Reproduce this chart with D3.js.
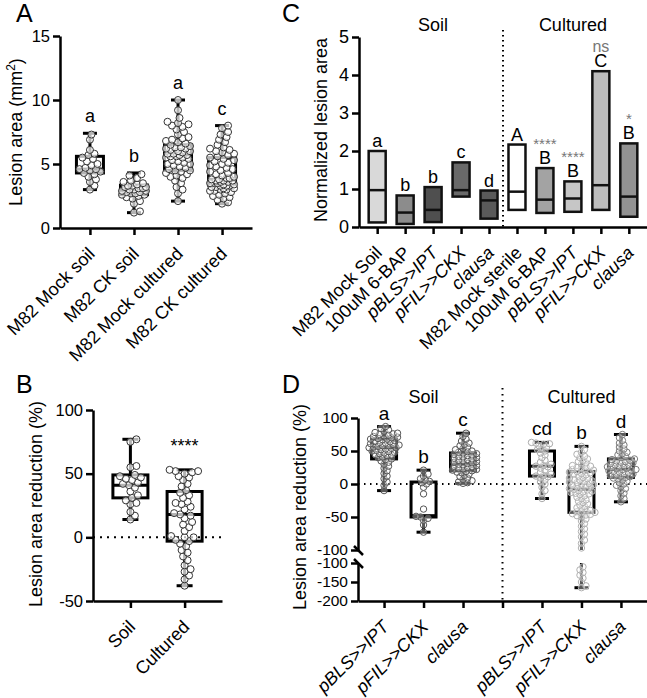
<!DOCTYPE html>
<html><head><meta charset="utf-8">
<script src="https://cdn.jsdelivr.net/npm/d3@7"></script>
<style>body{margin:0;background:#fff} svg{display:block} text{font-family:"Liberation Sans",Arial,Helvetica,sans-serif}</style>
</head><body><svg id="fig" width="647" height="698"></svg>
<script>
// ---------- Panel A data ----------
const aCategories = ["M82 Mock soil","M82 CK soil","M82 Mock cultured","M82 CK cultured"];
const aStats = [[3.0,4.3,4.6,5.6,7.4],[1.2,2.6,2.9,3.35,4.3],[2.1,4.5,5.7,6.5,10],[1.9,3.35,3.8,5.5,8.0]]; // min,q1,med,q3,max
const aLetters = ["a","b","a","c"];
const aMockSoil = [3.0,3.3,3.6,3.8,4.0,4.2,4.3,4.4,4.5,4.6,4.6,4.7,4.9,5.0,5.2,5.4,5.5,5.7,5.8,6.1,6.9,7.3];
const aCkSoil = [1.2,1.3,1.9,2.1,2.3,2.4,2.5,2.6,2.6,2.7,2.7,2.8,2.8,2.9,2.9,3.0,3.0,3.1,3.1,3.2,3.2,3.3,3.3,3.4,3.5,3.6,3.7,3.9,4.1,4.2];
const aMockCult = [2.1,2.7,3.0,3.2,3.5,3.7,3.9,4.0,4.1,4.2,4.3,4.4,4.5,4.5,4.6,4.7,4.8,4.9,5.0,5.0,5.1,5.2,5.3,5.4,5.5,5.5,5.6,5.6,5.7,5.7,5.8,5.8,5.9,6.0,6.0,6.1,6.2,6.2,6.3,6.3,6.4,6.5,6.6,6.7,6.8,6.9,7.0,7.1,7.3,7.5,7.7,7.9,8.0,8.1,8.2,8.3,8.6,9.2,10.0];
const aCkCult = [1.9,2.0,2.2,2.3,2.4,2.5,2.6,2.7,2.8,2.9,2.9,3.0,3.0,3.1,3.1,3.2,3.2,3.3,3.3,3.3,3.4,3.4,3.5,3.5,3.5,3.6,3.6,3.7,3.7,3.7,3.8,3.8,3.9,3.9,4.0,4.1,4.2,4.3,4.4,4.5,4.6,4.7,4.8,4.9,5.0,5.1,5.2,5.3,5.4,5.5,5.6,5.7,5.8,5.9,6.0,6.1,6.2,6.3,6.5,6.7,6.9,7.1,7.3,7.5,7.8,8.0];
const aPoints = [aMockSoil,aCkSoil,aMockCult,aCkCult];
const aTicks = [0,5,10,15];

// ---------- Panel B data ----------
const bCategories = ["Soil","Cultured"];
const bStats = [[14,31,41,49,77],[-38,-3,18,36,53]];
const bSoil = [14,17,20,26,27,29,31,33,36,39,41,42,43,45,46,47,48,49,55,56,75,77];
const bCultured = [-38,-33,-30,-27,-25,-22,-18,-15,-12,-10,-7,-5,-3,-2,0,0,1,5,8,10,12,15,17,18,19,22,24,26,27,28,31,33,35,37,40,42,45,47,48,50,51,52,52,53];
const bPoints = [bSoil,bCultured];
const bSig = ["","****"];
const bTicks = [-50,0,50,100];

// ---------- Panel C data ----------
const cCategories = ["M82 Mock Soil","100uM 6-BAP","pBLS>>IPT","pFIL>>CKX","clausa","M82 Mock sterile","100uM 6-BAP","pBLS>>IPT","pFIL>>CKX","clausa"];
const cItalic = [false,false,true,true,true,false,false,true,true,true];
const cMin = [0.12,0.08,0.13,0.8,0.22,0.45,0.37,0.4,0.45,0.27];
const cMax = [2.0,0.83,1.05,1.7,0.96,2.17,1.55,1.2,4.1,2.2];
const cMid = [0.97,0.38,0.45,0.97,0.7,0.93,0.72,0.75,1.1,0.8];
const cFill = ["#d9d9d9","#8c8c8c","#4f4f4f","#696969","#5a5a5a","#ffffff","#a3a3a3","#c6c6c6","#bdbdbd","#929292"];
const cLetters = ["a","b","b","c","d","A","B","B","C","B"];
const cSig = ["","","","","","","****","****","ns","*"];
const cTicks = [0,1,2,3,4,5];

// ---------- Panel D data ----------
const dCategories = ["pBLS>>IPT","pFIL>>CKX","clausa","","pBLS>>IPT","pFIL>>CKX","clausa"];
const dStats = [[-10,38,55,68,87],[-73,-50,-48,3,21],[1,20,30,47,77],null,[-22,12,27,50,63],[-165,-43,-8,19,57],[-27,10,22,38,75]];
const dLetters = ["a","b","c","","cd","b","d"];
const dPointColor = ["#555555","#555555","#555555","","#aaaaaa","#b0b0b0","#7a7a7a"];
const dSoilIPT = [-10,-2,3,8,12,16,20,24,27,30,33,35,37,38,40,41,43,44,45,46,47,48,49,50,51,52,53,54,55,55,56,57,58,58,59,60,61,62,63,64,65,66,67,68,68,69,70,71,72,73,74,75,76,77,78,80,82,84,87];
const dSoilCKX = [-73,-62,-55,-52,-50,-49,-38,-15,-5,0,2,4,6,8,12,15,21];
const dSoilClausa = [1,2,3,5,7,9,11,13,15,17,18,19,20,21,22,23,24,25,26,27,28,29,30,31,32,33,34,35,36,37,38,39,40,41,42,43,44,45,46,47,48,49,50,52,54,56,58,60,62,65,68,72,77];
const dCultIPT = [-22,-15,-10,-5,0,3,6,9,11,12,13,15,18,21,24,26,27,28,30,33,36,40,44,47,50,52,54,56,58,60,61,62,63];
const dCultCKX = [57,52,48,45,42,40,38,36,34,32,30,28,27,26,25,24,22,21,20,19,18,17,16,15,14,12,10,9,8,7,6,5,4,3,2,1,0,-1,-2,-3,-4,-5,-6,-7,-8,-9,-10,-11,-12,-13,-14,-15,-16,-18,-20,-22,-24,-26,-28,-30,-32,-34,-36,-38,-40,-41,-42,-43,-44,-45,-46,-47,-48,-50,-53,-56,-60,-64,-68,-72,-76,-80,-85,-90,-97,-110,-118,-125,-132,-140,-150,-160,-165];
const dCultClausa = [-27,-22,-18,-14,-10,-7,-4,-2,0,2,4,6,8,9,10,11,12,13,14,15,16,17,18,19,20,21,22,22,23,24,25,26,27,28,29,30,31,32,33,34,35,36,37,38,40,42,44,46,48,50,53,56,59,62,66,70,75];
const dPoints = [dSoilIPT,dSoilCKX,dSoilClausa,null,dCultIPT,dCultCKX,dCultClausa];
const dTicksUpper = [-100,-50,0,50,100];
const dTicksLower = [-200,-150,-100];

// ---------- helpers ----------
const FS = 18, TFS = 16.5;
const svg = d3.select("#fig");
const fmt = d => String(d);   // plain hyphen-minus, as in the reference

function styleAxis(g, fs){
  g.attr("font-size",fs||TFS).attr("font-family","'Liberation Sans',Arial,sans-serif");
  g.selectAll("path.domain").attr("stroke","#000").attr("stroke-width",2.5);
  g.selectAll(".tick line").attr("stroke","#000").attr("stroke-width",2.5);
  g.selectAll(".tick text").attr("fill","#000");
}
function xLabels(g, scale, labels, y0, italic){
  labels.forEach((lab,i)=>{
    if(!lab) return;
    const x = scale(i);
    g.append("text").attr("transform",`translate(${x+6},${y0+27}) rotate(-45)`)
      .attr("text-anchor","end").attr("font-size",FS)
      .attr("font-style", italic && italic[i] ? "italic":"normal").text(lab);
  });
}
function swarm(vals, y, cx, r, maxOff, f){
  const sorted = vals.slice().sort((a,b)=>a-b);
  const placed=[]; const minD = 2*r*f; const step=1.5;
  sorted.forEach(v=>{
    const py=y(v); let best=null, bestD=-1;
    for(let k=0;k<200;k++){
      const off = k===0?0:(k%2?1:-1)*Math.ceil(k/2)*step;
      if(Math.abs(off)>maxOff) break;
      let md=Infinity;
      for(const p of placed){ const dx=off-p.dx, dy=py-p.y; const d=Math.sqrt(dx*dx+dy*dy); if(d<md) md=d; }
      if(md>=minD){ best=off; bestD=md; break; }
      if(md>bestD){ bestD=md; best=off; }
    }
    placed.push({dx:best,y:py,v});
  });
  return placed.map(p=>({x:cx+p.dx,y:p.y}));
}
function drawBox(g, cx, s, y, w, capW, sw){
  g.append("line").attr("x1",cx).attr("x2",cx).attr("y1",y(s[0])).attr("y2",y(s[1])).attr("stroke","#000").attr("stroke-width",sw);
  g.append("line").attr("x1",cx).attr("x2",cx).attr("y1",y(s[3])).attr("y2",y(s[4])).attr("stroke","#000").attr("stroke-width",sw);
  [s[0],s[4]].forEach(v=>g.append("line").attr("x1",cx-capW/2).attr("x2",cx+capW/2).attr("y1",y(v)).attr("y2",y(v)).attr("stroke","#000").attr("stroke-width",sw));
  g.append("rect").attr("x",cx-w/2).attr("width",w).attr("y",y(s[3])).attr("height",y(s[1])-y(s[3])).attr("fill","none").attr("stroke","#000").attr("stroke-width",sw);
  g.append("line").attr("x1",cx-w/2).attr("x2",cx+w/2).attr("y1",y(s[2])).attr("y2",y(s[2])).attr("stroke","#000").attr("stroke-width",sw);
}
function drawPoints(g, pts, color, r, op){
  g.selectAll(null).data(pts).enter().append("circle").attr("cx",d=>d.x).attr("cy",d=>d.y).attr("r",r)
    .attr("fill","#fff").attr("fill-opacity",op).attr("stroke",color).attr("stroke-width",1);
}
function panelLetter(x,y,t){ svg.append("text").attr("x",x).attr("y",y).attr("font-size",25).text(t); }

// ---------- Panel A ----------
{
  const g = svg.append("g");
  const x = d3.scalePoint().domain(d3.range(aCategories.length)).range([60,252]).padding(0.68);
  const y = d3.scaleLinear().domain([0,15]).range([228,36]);
  const ya = g.append("g").attr("transform","translate(60,0)").call(d3.axisLeft(y).tickValues(aTicks).tickFormat(fmt).tickSize(7).tickPadding(3).tickSizeOuter(0));
  styleAxis(ya);
  const xa = g.append("g").attr("transform","translate(0,228)").call(d3.axisBottom(x).tickSize(7).tickSizeOuter(0).tickFormat(""));
  styleAxis(xa);
  xLabels(g, x, aCategories, 228);
  aStats.forEach((s,i)=>{
    drawBox(g, x(i), s, y, 27, 14, 3);
    drawPoints(g, swarm(aPoints[i], y, x(i), 3.5, 13, 0.75), "#333", 3.5, 0.7);
    g.append("text").attr("x",x(i)).attr("y",y(s[4])-11).attr("text-anchor","middle").attr("font-size",FS).text(aLetters[i]);
  });
  g.append("text").attr("transform","translate(22,132) rotate(-90)").attr("text-anchor","middle").attr("font-size",FS)
    .html('Lesion area (mm<tspan dy="-7" font-size="12">2</tspan><tspan dy="7">)</tspan>');
  panelLetter(16,22,"A");
}

// ---------- Panel B ----------
{
  const g = svg.append("g");
  const x = d3.scalePoint().domain(d3.range(bCategories.length)).range([93,222]).padding(0.69);
  const y = d3.scaleLinear().domain([-50,100]).range([601,410]);
  g.append("line").attr("x1",93).attr("x2",222).attr("y1",y(0)).attr("y2",y(0)).attr("stroke","#000").attr("stroke-width",2).attr("stroke-dasharray","2,5");
  const ya = g.append("g").attr("transform","translate(93,0)").call(d3.axisLeft(y).tickValues(bTicks).tickFormat(fmt).tickSize(7).tickPadding(3).tickSizeOuter(0));
  styleAxis(ya);
  const xa = g.append("g").attr("transform","translate(0,601)").call(d3.axisBottom(x).tickSize(7).tickSizeOuter(0).tickFormat(""));
  styleAxis(xa);
  xLabels(g, x, bCategories, 601);
  bStats.forEach((s,i)=>{
    drawBox(g, x(i), s, y, 35, 16, 3);
    drawPoints(g, swarm(bPoints[i], y, x(i), 3.5, 17, 0.8), "#333", 3.5, 0.7);
    if(bSig[i]) g.append("text").attr("x",x(i)).attr("y",452).attr("text-anchor","middle").attr("font-size",FS).text(bSig[i]);
  });
  g.append("text").attr("transform","translate(42,504) rotate(-90)").attr("text-anchor","middle").attr("font-size",FS).text("Lesion area reduction (%)");
  panelLetter(16,393,"B");
}

// ---------- Panel C ----------
{
  const g = svg.append("g");
  const x = d3.scalePoint().domain(d3.range(cCategories.length)).range([359,647]).padding(0.65);
  const y = d3.scaleLinear().domain([0,5]).range([227,37]);
  const xm = (x(4)+x(5))/2;
  g.append("line").attr("x1",xm).attr("x2",xm).attr("y1",30).attr("y2",227).attr("stroke","#000").attr("stroke-width",2).attr("stroke-dasharray","1.5,3.5");
  const ya = g.append("g").attr("transform","translate(359,0)").call(d3.axisLeft(y).tickValues(cTicks).tickFormat(fmt).tickSize(7).tickPadding(3).tickSizeOuter(0));
  styleAxis(ya, 18);
  const xa = g.append("g").attr("transform","translate(0,227)").call(d3.axisBottom(x).tickSize(7).tickSizeOuter(0).tickFormat(""));
  styleAxis(xa);
  xLabels(g, x, cCategories, 227, cItalic);
  cCategories.forEach((c,i)=>{
    const cx=x(i), w=17;
    g.append("rect").attr("x",cx-w/2).attr("width",w).attr("y",y(cMax[i])).attr("height",y(cMin[i])-y(cMax[i]))
      .attr("fill",cFill[i]).attr("stroke","#111").attr("stroke-width",2.5);
    g.append("line").attr("x1",cx-w/2).attr("x2",cx+w/2).attr("y1",y(cMid[i])).attr("y2",y(cMid[i])).attr("stroke","#111").attr("stroke-width",2.5);
    g.append("text").attr("x",cx).attr("y",y(cMax[i])-4).attr("text-anchor","middle").attr("font-size",FS).text(cLetters[i]);
    if(cSig[i]) g.append("text").attr("x",cx).attr("y",y(cMax[i])-19).attr("text-anchor","middle")
      .attr("font-size",cSig[i]==="ns"?16:15).attr("fill","#777").text(cSig[i]);
  });
  g.append("text").attr("x",(x(0)+x(4))/2).attr("y",31).attr("text-anchor","middle").attr("font-size",FS).text("Soil");
  g.append("text").attr("x",(x(5)+x(9))/2).attr("y",31).attr("text-anchor","middle").attr("font-size",FS).text("Cultured");
  g.append("text").attr("transform","translate(327,130) rotate(-90)").attr("text-anchor","middle").attr("font-size",FS).text("Normalized lesion area");
  panelLetter(282,22,"C");
}

// ---------- Panel D ----------
{
  const g = svg.append("g");
  const x = d3.scalePoint().domain(d3.range(dCategories.length)).range([358,647]).padding(0.66);
  const yUp = d3.scaleLinear().domain([-100,100]).range([550,418]);
  const yLow = d3.scaleLinear().domain([-200,-100]).range([601,563]);
  const y = v => v >= -100 ? yUp(v) : yLow(v);
  g.append("line").attr("x1",358).attr("x2",647).attr("y1",yUp(0)).attr("y2",yUp(0)).attr("stroke","#000").attr("stroke-width",2).attr("stroke-dasharray","1.5,4.5");
  g.append("line").attr("x1",x(3)).attr("x2",x(3)).attr("y1",388).attr("y2",601).attr("stroke","#000").attr("stroke-width",2).attr("stroke-dasharray","1.5,4.5");
  const yu = g.append("g").attr("transform","translate(358,0)").call(d3.axisLeft(yUp).tickValues(dTicksUpper).tickFormat(fmt).tickSize(7).tickPadding(3).tickSizeOuter(0));
  styleAxis(yu, 15.5);
  const yl = g.append("g").attr("transform","translate(358,0)").call(d3.axisLeft(yLow).tickValues(dTicksLower).tickFormat(fmt).tickSize(7).tickPadding(3).tickSizeOuter(0));
  styleAxis(yl, 15.5);
  [yUp(-100), yLow(-100)].forEach(yy=>{
    g.append("line").attr("x1",354).attr("x2",363).attr("y1",yy-4).attr("y2",yy+5).attr("stroke","#000").attr("stroke-width",2.5);
  });
  const xa = g.append("g").attr("transform","translate(0,601)").call(d3.axisBottom(x).tickSize(7).tickSizeOuter(0).tickFormat(""));
  styleAxis(xa);
  xLabels(g, x, dCategories, 601, dCategories.map(c=>true));
  dStats.forEach((s,i)=>{
    if(!s) return;
    const cx=x(i), w=25, sw=3;
    if(s[0] < -100){
      g.append("line").attr("x1",cx).attr("x2",cx).attr("y1",yUp(s[1])).attr("y2",yUp(-100)).attr("stroke","#000").attr("stroke-width",sw);
      g.append("line").attr("x1",cx).attr("x2",cx).attr("y1",yLow(-100)).attr("y2",yLow(s[0])).attr("stroke","#000").attr("stroke-width",sw);
    } else {
      g.append("line").attr("x1",cx).attr("x2",cx).attr("y1",y(s[0])).attr("y2",y(s[1])).attr("stroke","#000").attr("stroke-width",sw);
    }
    g.append("line").attr("x1",cx).attr("x2",cx).attr("y1",y(s[3])).attr("y2",y(s[4])).attr("stroke","#000").attr("stroke-width",sw);
    [s[0],s[4]].forEach(v=>g.append("line").attr("x1",cx-7).attr("x2",cx+7).attr("y1",y(v)).attr("y2",y(v)).attr("stroke","#000").attr("stroke-width",sw));
    g.append("rect").attr("x",cx-w/2).attr("width",w).attr("y",y(s[3])).attr("height",y(s[1])-y(s[3])).attr("fill","none").attr("stroke","#000").attr("stroke-width",sw);
    g.append("line").attr("x1",cx-w/2).attr("x2",cx+w/2).attr("y1",y(s[2])).attr("y2",y(s[2])).attr("stroke","#000").attr("stroke-width",sw);
    drawPoints(g, swarm(dPoints[i], y, cx, 3.2, 15, 0.6), dPointColor[i], 3.2, 0.35);
    g.append("text").attr("x",cx).attr("y",y(s[4])-7).attr("text-anchor","middle").attr("font-size",FS+1).text(dLetters[i]);
  });
  g.append("text").attr("x",(x(0)+x(2))/2).attr("y",403).attr("text-anchor","middle").attr("font-size",FS).text("Soil");
  g.append("text").attr("x",(x(4)+x(6))/2).attr("y",403).attr("text-anchor","middle").attr("font-size",FS).text("Cultured");
  g.append("text").attr("transform","translate(306,507) rotate(-90)").attr("text-anchor","middle").attr("font-size",FS).text("Lesion area reduction (%)");
  panelLetter(282,393,"D");
}
</script></body></html>
